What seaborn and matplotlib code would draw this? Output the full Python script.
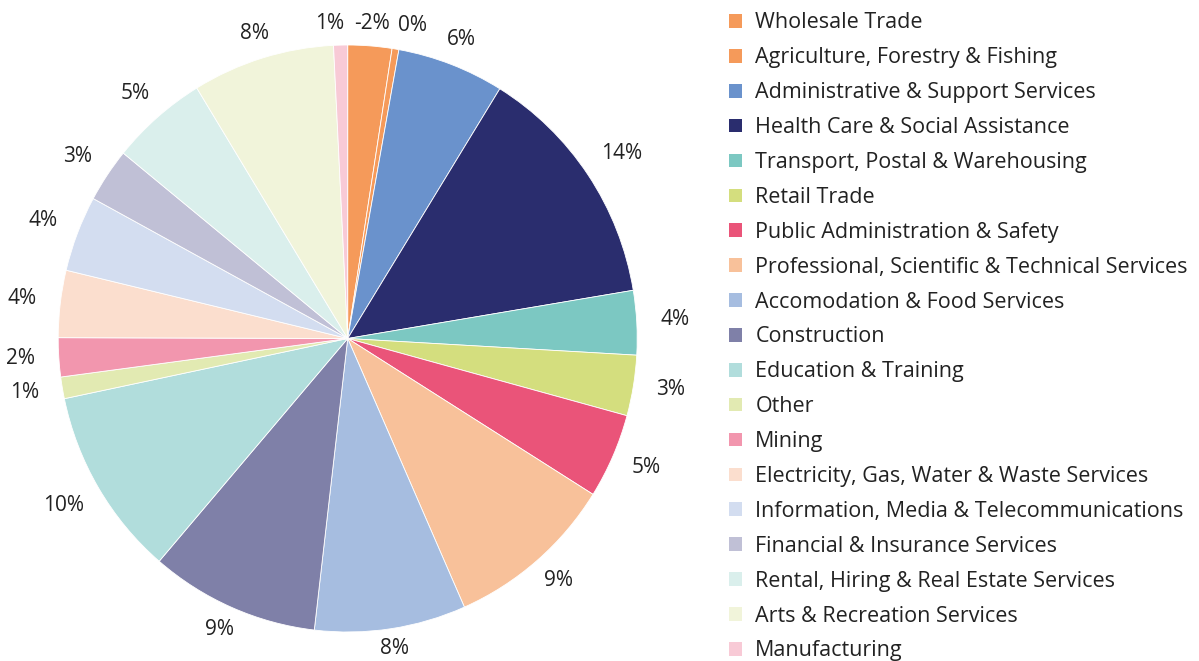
import matplotlib
matplotlib.use("Agg")
import matplotlib.pyplot as plt
from matplotlib.patches import Patch
import numpy as np
import seaborn as sns

industries = [
    "Wholesale Trade",
    "Agriculture, Forestry & Fishing",
    "Administrative & Support Services",
    "Health Care & Social Assistance",
    "Transport, Postal & Warehousing",
    "Retail Trade",
    "Public Administration & Safety",
    "Professional, Scientific & Technical Services",
    "Accomodation & Food Services",
    "Construction",
    "Education & Training",
    "Other",
    "Mining",
    "Electricity, Gas, Water & Waste Services",
    "Information, Media & Telecommunications",
    "Financial & Insurance Services",
    "Rental, Hiring & Real Estate Services",
    "Arts & Recreation Services",
    "Manufacturing",
]
shares = [-2.45, 0.38, 5.97, 13.56, 3.53, 3.33, 4.67, 9.48, 8.44, 9.44,
          10.42, 1.19, 2.14, 3.69, 4.17, 2.97, 5.39, 7.94, 0.78]
colours = ["#F59A5A", "#F59A5A", "#6A92CC", "#2A2D6E", "#7CC8C2",
           "#D4DE7E", "#EA5479", "#F8C19A", "#A6BDE0", "#7F80A8",
           "#B1DDDC", "#E2EAB2", "#F296AE", "#FBDECE", "#D3DDF0",
           "#C0C0D6", "#DAEFEC", "#F1F4DA", "#F8CAD6"]

sns.set_theme(style="white")
plt.rcParams["font.family"] = ["Open Sans", "DejaVu Sans"]

fig = plt.figure(figsize=(11.99, 6.61), dpi=100)
sx, sy = 289.5, 293.5  # pie radius in pixels (slightly taller than wide)
cx, cy = 347.7, 338.5  # pie centre in pixels from top-left
ax = fig.add_axes([(cx - sx) / 1199, (661 - cy - sy) / 661,
                   2 * sx / 1199, 2 * sy / 661])

sizes = np.abs(shares)
labels = [f"{v:.0f}%" for v in shares]
wedges, texts = ax.pie(sizes, colors=colours, labels=labels, startangle=90,
                       counterclock=False, labeldistance=1.1,
                       wedgeprops=dict(edgecolor="white", linewidth=0.6),
                       textprops=dict(fontsize=15, color="#222222"))
ax.set_aspect("auto")
ax.set_xlim(-1, 1)
ax.set_ylim(-1, 1)
ax.axis("off")

# put labels on a ring just outside the rim, like "outside end" labels
fig.canvas.draw()
renderer = fig.canvas.get_renderer()
cap = 15.0      # visual height of the digits in pixels
ring = 313.0    # label ring radius in pixels
ring_cy = 335.0
placed = []
for w, t in zip(wedges, texts):
    mid = np.deg2rad((w.theta1 + w.theta2) / 2)
    c, s = np.cos(mid), np.sin(mid)
    tw = t.get_window_extent(renderer).width
    d = ring + tw / 2 * abs(c)
    xp = d * c                      # offset right of centre
    yp = ring_cy - d * s            # pixel row of the label centre
    if placed and xp > 0 and s > 0.8:
        px_, pw = placed[-1][:2]
        overlap = (px_ + pw / 2) - (xp - tw / 2) + 8
        if overlap > 0:
            xp += overlap
    placed.append([xp, tw, yp, s])

# last label (left of the top) must not run into the first one
first, last = placed[0], placed[-1]
if last[3] > 0.8:
    overlap = (last[0] + last[1] / 2) - (first[0] - first[1] / 2) + 10
    if overlap > 0:
        last[0] -= overlap

for t, (xp, tw, yp, s) in zip(texts, placed):
    t.set_position((xp / sx, (cy - (yp + cap / 2)) / sy))
    t.set_ha("center")
    t.set_va("baseline")

handles = [Patch(facecolor=c, edgecolor="none") for c in colours]
fig.legend(handles, industries, loc="upper left",
           bbox_to_anchor=(729 / 1199, 1 - 12.5 / 661), frameon=False,
           fontsize=15.5, handlelength=0.6, handleheight=0.6,
           handletextpad=0.62, labelspacing=0.645, borderpad=0,
           borderaxespad=0, labelcolor="#222222")

fig.savefig("out.png", dpi=100)
